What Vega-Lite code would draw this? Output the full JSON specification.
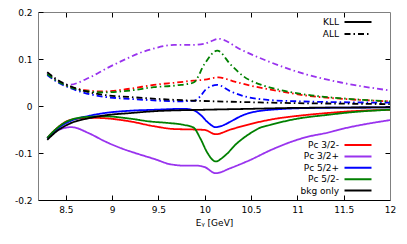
{
  "$schema": "https://vega.github.io/schema/vega-lite/v6.json",
  "width": 352,
  "height": 188,
  "autosize": "none",
  "padding": {"left": 38, "top": 12, "right": 17, "bottom": 44},
  "config": {
    "font": "DejaVu Sans",
    "view": {"stroke": null},
    "axis": {"labelFontSize": 9, "labelColor": "black", "titleFontSize": 9, "titleFontWeight": "normal", "titleColor": "black", "grid": false, "tickColor": "black", "domainColor": "#808080", "tickSize": -5, "labelPadding": 10},
    "legend": {"labelFontSize": 9, "labelColor": "black"}
  },
  "datasets": {
    "curves": [
      {"E": 8.3, "v": 0.070, "s": "Pc 3/2-", "o": "ALL"},
      {"E": 8.4, "v": 0.055, "s": "Pc 3/2-", "o": "ALL"},
      {"E": 8.55, "v": 0.040, "s": "Pc 3/2-", "o": "ALL"},
      {"E": 8.7, "v": 0.034, "s": "Pc 3/2-", "o": "ALL"},
      {"E": 8.9, "v": 0.031, "s": "Pc 3/2-", "o": "ALL"},
      {"E": 9.2, "v": 0.037, "s": "Pc 3/2-", "o": "ALL"},
      {"E": 9.45, "v": 0.045, "s": "Pc 3/2-", "o": "ALL"},
      {"E": 9.7, "v": 0.050, "s": "Pc 3/2-", "o": "ALL"},
      {"E": 9.88, "v": 0.054, "s": "Pc 3/2-", "o": "ALL"},
      {"E": 10.0, "v": 0.056, "s": "Pc 3/2-", "o": "ALL"},
      {"E": 10.15, "v": 0.061, "s": "Pc 3/2-", "o": "ALL"},
      {"E": 10.3, "v": 0.053, "s": "Pc 3/2-", "o": "ALL"},
      {"E": 10.5, "v": 0.043, "s": "Pc 3/2-", "o": "ALL"},
      {"E": 10.71, "v": 0.035, "s": "Pc 3/2-", "o": "ALL"},
      {"E": 11.1, "v": 0.022, "s": "Pc 3/2-", "o": "ALL"},
      {"E": 11.5, "v": 0.015, "s": "Pc 3/2-", "o": "ALL"},
      {"E": 12.0, "v": 0.010, "s": "Pc 3/2-", "o": "ALL"},

      {"E": 8.3, "v": 0.070, "s": "Pc 3/2+", "o": "ALL"},
      {"E": 8.4, "v": 0.055, "s": "Pc 3/2+", "o": "ALL"},
      {"E": 8.53, "v": 0.045, "s": "Pc 3/2+", "o": "ALL"},
      {"E": 8.75, "v": 0.060, "s": "Pc 3/2+", "o": "ALL"},
      {"E": 8.95, "v": 0.081, "s": "Pc 3/2+", "o": "ALL"},
      {"E": 9.15, "v": 0.100, "s": "Pc 3/2+", "o": "ALL"},
      {"E": 9.3, "v": 0.113, "s": "Pc 3/2+", "o": "ALL"},
      {"E": 9.41, "v": 0.120, "s": "Pc 3/2+", "o": "ALL"},
      {"E": 9.67, "v": 0.130, "s": "Pc 3/2+", "o": "ALL"},
      {"E": 9.85, "v": 0.130, "s": "Pc 3/2+", "o": "ALL"},
      {"E": 9.99, "v": 0.132, "s": "Pc 3/2+", "o": "ALL"},
      {"E": 10.06, "v": 0.137, "s": "Pc 3/2+", "o": "ALL"},
      {"E": 10.15, "v": 0.143, "s": "Pc 3/2+", "o": "ALL"},
      {"E": 10.39, "v": 0.120, "s": "Pc 3/2+", "o": "ALL"},
      {"E": 10.71, "v": 0.093, "s": "Pc 3/2+", "o": "ALL"},
      {"E": 11.1, "v": 0.067, "s": "Pc 3/2+", "o": "ALL"},
      {"E": 11.47, "v": 0.050, "s": "Pc 3/2+", "o": "ALL"},
      {"E": 12.0, "v": 0.033, "s": "Pc 3/2+", "o": "ALL"},

      {"E": 8.3, "v": 0.066, "s": "Pc 5/2+", "o": "ALL"},
      {"E": 8.4, "v": 0.052, "s": "Pc 5/2+", "o": "ALL"},
      {"E": 8.55, "v": 0.038, "s": "Pc 5/2+", "o": "ALL"},
      {"E": 8.7, "v": 0.028, "s": "Pc 5/2+", "o": "ALL"},
      {"E": 8.9, "v": 0.020, "s": "Pc 5/2+", "o": "ALL"},
      {"E": 9.2, "v": 0.015, "s": "Pc 5/2+", "o": "ALL"},
      {"E": 9.45, "v": 0.012, "s": "Pc 5/2+", "o": "ALL"},
      {"E": 9.7, "v": 0.010, "s": "Pc 5/2+", "o": "ALL"},
      {"E": 9.88, "v": 0.011, "s": "Pc 5/2+", "o": "ALL"},
      {"E": 9.95, "v": 0.020, "s": "Pc 5/2+", "o": "ALL"},
      {"E": 10.01, "v": 0.035, "s": "Pc 5/2+", "o": "ALL"},
      {"E": 10.135, "v": 0.045, "s": "Pc 5/2+", "o": "ALL"},
      {"E": 10.28, "v": 0.031, "s": "Pc 5/2+", "o": "ALL"},
      {"E": 10.46, "v": 0.019, "s": "Pc 5/2+", "o": "ALL"},
      {"E": 10.68, "v": 0.013, "s": "Pc 5/2+", "o": "ALL"},
      {"E": 11.0, "v": 0.010, "s": "Pc 5/2+", "o": "ALL"},
      {"E": 11.5, "v": 0.008, "s": "Pc 5/2+", "o": "ALL"},
      {"E": 12.0, "v": 0.007, "s": "Pc 5/2+", "o": "ALL"},

      {"E": 8.3, "v": 0.068, "s": "Pc 5/2-", "o": "ALL"},
      {"E": 8.4, "v": 0.054, "s": "Pc 5/2-", "o": "ALL"},
      {"E": 8.55, "v": 0.040, "s": "Pc 5/2-", "o": "ALL"},
      {"E": 8.7, "v": 0.032, "s": "Pc 5/2-", "o": "ALL"},
      {"E": 8.9, "v": 0.029, "s": "Pc 5/2-", "o": "ALL"},
      {"E": 9.2, "v": 0.033, "s": "Pc 5/2-", "o": "ALL"},
      {"E": 9.45, "v": 0.040, "s": "Pc 5/2-", "o": "ALL"},
      {"E": 9.7, "v": 0.044, "s": "Pc 5/2-", "o": "ALL"},
      {"E": 9.88, "v": 0.050, "s": "Pc 5/2-", "o": "ALL"},
      {"E": 10.0, "v": 0.090, "s": "Pc 5/2-", "o": "ALL"},
      {"E": 10.135, "v": 0.118, "s": "Pc 5/2-", "o": "ALL"},
      {"E": 10.28, "v": 0.088, "s": "Pc 5/2-", "o": "ALL"},
      {"E": 10.42, "v": 0.063, "s": "Pc 5/2-", "o": "ALL"},
      {"E": 10.64, "v": 0.043, "s": "Pc 5/2-", "o": "ALL"},
      {"E": 10.75, "v": 0.037, "s": "Pc 5/2-", "o": "ALL"},
      {"E": 11.1, "v": 0.024, "s": "Pc 5/2-", "o": "ALL"},
      {"E": 11.5, "v": 0.016, "s": "Pc 5/2-", "o": "ALL"},
      {"E": 12.0, "v": 0.010, "s": "Pc 5/2-", "o": "ALL"},

      {"E": 8.3, "v": 0.072, "s": "bkg only", "o": "ALL"},
      {"E": 8.4, "v": 0.057, "s": "bkg only", "o": "ALL"},
      {"E": 8.55, "v": 0.042, "s": "bkg only", "o": "ALL"},
      {"E": 8.7, "v": 0.032, "s": "bkg only", "o": "ALL"},
      {"E": 8.9, "v": 0.024, "s": "bkg only", "o": "ALL"},
      {"E": 9.2, "v": 0.019, "s": "bkg only", "o": "ALL"},
      {"E": 9.5, "v": 0.015, "s": "bkg only", "o": "ALL"},
      {"E": 9.8, "v": 0.012, "s": "bkg only", "o": "ALL"},
      {"E": 10.1, "v": 0.010, "s": "bkg only", "o": "ALL"},
      {"E": 10.5, "v": 0.008, "s": "bkg only", "o": "ALL"},
      {"E": 11.0, "v": 0.006, "s": "bkg only", "o": "ALL"},
      {"E": 11.5, "v": 0.005, "s": "bkg only", "o": "ALL"},
      {"E": 12.0, "v": 0.004, "s": "bkg only", "o": "ALL"},

      {"E": 8.3, "v": -0.068, "s": "Pc 3/2-", "o": "KLL"},
      {"E": 8.4, "v": -0.048, "s": "Pc 3/2-", "o": "KLL"},
      {"E": 8.56, "v": -0.029, "s": "Pc 3/2-", "o": "KLL"},
      {"E": 8.75, "v": -0.025, "s": "Pc 3/2-", "o": "KLL"},
      {"E": 8.92, "v": -0.026, "s": "Pc 3/2-", "o": "KLL"},
      {"E": 9.2, "v": -0.033, "s": "Pc 3/2-", "o": "KLL"},
      {"E": 9.45, "v": -0.043, "s": "Pc 3/2-", "o": "KLL"},
      {"E": 9.67, "v": -0.049, "s": "Pc 3/2-", "o": "KLL"},
      {"E": 9.88, "v": -0.050, "s": "Pc 3/2-", "o": "KLL"},
      {"E": 10.0, "v": -0.051, "s": "Pc 3/2-", "o": "KLL"},
      {"E": 10.117, "v": -0.060, "s": "Pc 3/2-", "o": "KLL"},
      {"E": 10.28, "v": -0.050, "s": "Pc 3/2-", "o": "KLL"},
      {"E": 10.5, "v": -0.038, "s": "Pc 3/2-", "o": "KLL"},
      {"E": 10.71, "v": -0.029, "s": "Pc 3/2-", "o": "KLL"},
      {"E": 11.1, "v": -0.019, "s": "Pc 3/2-", "o": "KLL"},
      {"E": 11.32, "v": -0.015, "s": "Pc 3/2-", "o": "KLL"},
      {"E": 11.6, "v": -0.011, "s": "Pc 3/2-", "o": "KLL"},
      {"E": 12.0, "v": -0.008, "s": "Pc 3/2-", "o": "KLL"},

      {"E": 8.3, "v": -0.068, "s": "Pc 3/2+", "o": "KLL"},
      {"E": 8.4, "v": -0.053, "s": "Pc 3/2+", "o": "KLL"},
      {"E": 8.56, "v": -0.045, "s": "Pc 3/2+", "o": "KLL"},
      {"E": 8.75, "v": -0.058, "s": "Pc 3/2+", "o": "KLL"},
      {"E": 8.92, "v": -0.075, "s": "Pc 3/2+", "o": "KLL"},
      {"E": 9.1, "v": -0.090, "s": "Pc 3/2+", "o": "KLL"},
      {"E": 9.28, "v": -0.102, "s": "Pc 3/2+", "o": "KLL"},
      {"E": 9.46, "v": -0.113, "s": "Pc 3/2+", "o": "KLL"},
      {"E": 9.63, "v": -0.124, "s": "Pc 3/2+", "o": "KLL"},
      {"E": 9.8, "v": -0.127, "s": "Pc 3/2+", "o": "KLL"},
      {"E": 9.92, "v": -0.127, "s": "Pc 3/2+", "o": "KLL"},
      {"E": 10.0, "v": -0.130, "s": "Pc 3/2+", "o": "KLL"},
      {"E": 10.117, "v": -0.143, "s": "Pc 3/2+", "o": "KLL"},
      {"E": 10.28, "v": -0.132, "s": "Pc 3/2+", "o": "KLL"},
      {"E": 10.5, "v": -0.114, "s": "Pc 3/2+", "o": "KLL"},
      {"E": 10.71, "v": -0.094, "s": "Pc 3/2+", "o": "KLL"},
      {"E": 11.1, "v": -0.066, "s": "Pc 3/2+", "o": "KLL"},
      {"E": 11.32, "v": -0.057, "s": "Pc 3/2+", "o": "KLL"},
      {"E": 11.5, "v": -0.048, "s": "Pc 3/2+", "o": "KLL"},
      {"E": 12.0, "v": -0.030, "s": "Pc 3/2+", "o": "KLL"},

      {"E": 8.3, "v": -0.069, "s": "Pc 5/2+", "o": "KLL"},
      {"E": 8.4, "v": -0.050, "s": "Pc 5/2+", "o": "KLL"},
      {"E": 8.56, "v": -0.031, "s": "Pc 5/2+", "o": "KLL"},
      {"E": 8.75, "v": -0.021, "s": "Pc 5/2+", "o": "KLL"},
      {"E": 8.92, "v": -0.015, "s": "Pc 5/2+", "o": "KLL"},
      {"E": 9.2, "v": -0.010, "s": "Pc 5/2+", "o": "KLL"},
      {"E": 9.46, "v": -0.008, "s": "Pc 5/2+", "o": "KLL"},
      {"E": 9.77, "v": -0.006, "s": "Pc 5/2+", "o": "KLL"},
      {"E": 9.88, "v": -0.009, "s": "Pc 5/2+", "o": "KLL"},
      {"E": 9.955, "v": -0.019, "s": "Pc 5/2+", "o": "KLL"},
      {"E": 10.04, "v": -0.036, "s": "Pc 5/2+", "o": "KLL"},
      {"E": 10.117, "v": -0.045, "s": "Pc 5/2+", "o": "KLL"},
      {"E": 10.2, "v": -0.041, "s": "Pc 5/2+", "o": "KLL"},
      {"E": 10.28, "v": -0.033, "s": "Pc 5/2+", "o": "KLL"},
      {"E": 10.42, "v": -0.019, "s": "Pc 5/2+", "o": "KLL"},
      {"E": 10.71, "v": -0.008, "s": "Pc 5/2+", "o": "KLL"},
      {"E": 11.2, "v": -0.004, "s": "Pc 5/2+", "o": "KLL"},
      {"E": 12.0, "v": -0.003, "s": "Pc 5/2+", "o": "KLL"},

      {"E": 8.3, "v": -0.068, "s": "Pc 5/2-", "o": "KLL"},
      {"E": 8.4, "v": -0.048, "s": "Pc 5/2-", "o": "KLL"},
      {"E": 8.56, "v": -0.029, "s": "Pc 5/2-", "o": "KLL"},
      {"E": 8.75, "v": -0.023, "s": "Pc 5/2-", "o": "KLL"},
      {"E": 8.92, "v": -0.022, "s": "Pc 5/2-", "o": "KLL"},
      {"E": 9.2, "v": -0.027, "s": "Pc 5/2-", "o": "KLL"},
      {"E": 9.41, "v": -0.033, "s": "Pc 5/2-", "o": "KLL"},
      {"E": 9.6, "v": -0.036, "s": "Pc 5/2-", "o": "KLL"},
      {"E": 9.77, "v": -0.040, "s": "Pc 5/2-", "o": "KLL"},
      {"E": 9.88, "v": -0.046, "s": "Pc 5/2-", "o": "KLL"},
      {"E": 9.95, "v": -0.068, "s": "Pc 5/2-", "o": "KLL"},
      {"E": 10.03, "v": -0.100, "s": "Pc 5/2-", "o": "KLL"},
      {"E": 10.117, "v": -0.118, "s": "Pc 5/2-", "o": "KLL"},
      {"E": 10.21, "v": -0.107, "s": "Pc 5/2-", "o": "KLL"},
      {"E": 10.35, "v": -0.079, "s": "Pc 5/2-", "o": "KLL"},
      {"E": 10.5, "v": -0.057, "s": "Pc 5/2-", "o": "KLL"},
      {"E": 10.6, "v": -0.046, "s": "Pc 5/2-", "o": "KLL"},
      {"E": 10.71, "v": -0.040, "s": "Pc 5/2-", "o": "KLL"},
      {"E": 11.0, "v": -0.027, "s": "Pc 5/2-", "o": "KLL"},
      {"E": 11.32, "v": -0.019, "s": "Pc 5/2-", "o": "KLL"},
      {"E": 11.6, "v": -0.013, "s": "Pc 5/2-", "o": "KLL"},
      {"E": 12.0, "v": -0.008, "s": "Pc 5/2-", "o": "KLL"},

      {"E": 8.3, "v": -0.072, "s": "bkg only", "o": "KLL"},
      {"E": 8.4, "v": -0.054, "s": "bkg only", "o": "KLL"},
      {"E": 8.56, "v": -0.036, "s": "bkg only", "o": "KLL"},
      {"E": 8.75, "v": -0.026, "s": "bkg only", "o": "KLL"},
      {"E": 8.92, "v": -0.020, "s": "bkg only", "o": "KLL"},
      {"E": 9.2, "v": -0.015, "s": "bkg only", "o": "KLL"},
      {"E": 9.46, "v": -0.011, "s": "bkg only", "o": "KLL"},
      {"E": 9.99, "v": -0.008, "s": "bkg only", "o": "KLL"},
      {"E": 10.5, "v": -0.006, "s": "bkg only", "o": "KLL"},
      {"E": 11.0, "v": -0.004, "s": "bkg only", "o": "KLL"},
      {"E": 12.0, "v": -0.003, "s": "bkg only", "o": "KLL"}
    ]
  },
  "resolve": {"axis": {"x": "independent", "y": "independent"}},
  "layer": [
    {
      "data": {"name": "curves"},
      "mark": {"type": "line", "interpolate": "monotone", "strokeWidth": 1.8},
      "encoding": {
        "x": {"field": "E", "type": "quantitative", "scale": {"domain": [8.2, 12], "nice": false, "zero": false},
              "axis": {"values": [8.5, 9, 9.5, 10, 10.5, 11, 11.5, 12], "labelExpr": "toString(datum.value)", "title": "Eᵧ [GeV]", "titlePadding": 4, "domainColor": "black", "labelFlush": false}},
        "y": {"field": "v", "type": "quantitative", "scale": {"domain": [-0.2, 0.2], "nice": false},
              "axis": {"values": [-0.2, -0.1, 0, 0.1, 0.2], "labelExpr": "toString(datum.value)", "title": null, "labelPadding": 11, "labelFlush": false}},
        "color": {"field": "s", "type": "nominal",
                  "scale": {"domain": ["Pc 3/2-", "Pc 3/2+", "Pc 5/2+", "Pc 5/2-", "bkg only"], "range": ["#ff0000", "#9933ee", "#0000ff", "#008000", "#000000"]},
                  "legend": {"orient": "none", "legendX": 314, "legendY": 127, "title": null, "symbolType": "M-2.7,0H2.7", "symbolStrokeWidth": 2, "symbolSize": 100, "symbolDash": [1, 0], "labelAlign": "right", "labelOffset": -25, "rowPadding": 0.4}},
        "strokeDash": {"field": "o", "type": "nominal",
                  "scale": {"domain": ["KLL", "ALL"], "range": [[1, 0], [6, 3, 1.5, 3]]},
                  "legend": {"orient": "none", "legendX": 314, "legendY": 4, "title": null, "symbolType": "M-2.7,0H2.7", "symbolStrokeWidth": 2, "symbolSize": 100, "symbolStrokeColor": "black", "labelAlign": "right", "labelOffset": -25, "rowPadding": 1}},
        "order": {"field": "s"}
      }
    },
    {
      "mark": {"type": "rule", "strokeDash": [1, 2], "color": "black", "strokeWidth": 1},
      "encoding": {
        "x": {"datum": 8.2, "type": "quantitative", "axis": {"orient": "top", "values": [8.5, 9, 9.5, 10, 10.5, 11, 11.5], "labels": false, "title": null}},
        "x2": {"datum": 12},
        "y": {"datum": 0, "type": "quantitative", "axis": {"orient": "right", "values": [-0.1, 0, 0.1], "labels": false, "title": null}}
      }
    }
  ]
}
